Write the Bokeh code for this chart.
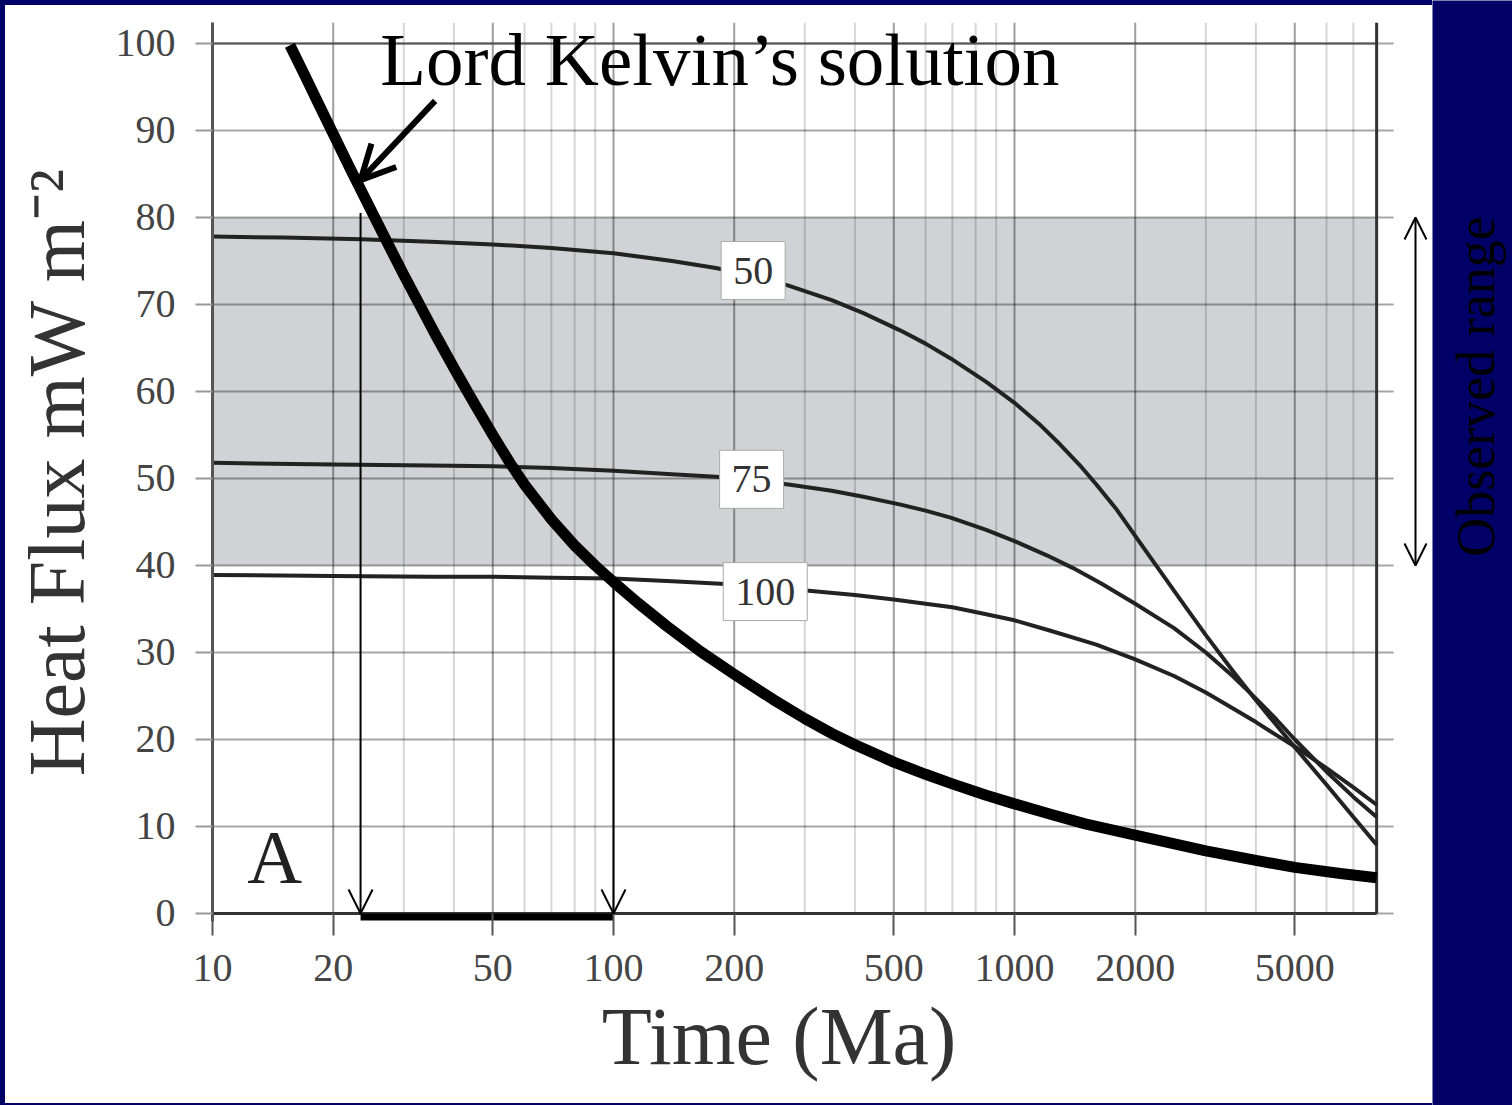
import math
from bokeh.plotting import figure
from bokeh.models import (FixedTicker, Label, Arrow, OpenHead, PrintfTickFormatter, Spacer)
from bokeh.layouts import row, column
from bokeh.embed import file_html
from bokeh.resources import INLINE

NAVY = "#000066"
SERIF = "Liberation Serif"

# ---------------- data ----------------
x_major = [10, 20, 50, 100, 200, 500, 1000, 2000, 5000]
x_minor = [30, 40, 60, 70, 80, 90, 300, 400, 600, 700, 800, 900,
           3000, 4000, 6000, 7000, 8000]
y_ticks = [0, 10, 20, 30, 40, 50, 60, 70, 80, 90, 100]

# Lord Kelvin's solution (thick curve)
kelvin_t = [15.6, 17, 18.5, 20, 22, 25, 27.5, 30, 33, 36, 40, 45, 50, 55, 60, 70, 80, 90,
            100, 115, 136, 165, 200, 250, 300, 350, 400, 500, 600, 700, 850, 1000, 1230,
            1500, 2000, 3000, 4000, 5000, 6500, 8000]
kelvin_q = [99.8, 96.3, 92.8, 89.6, 85.7, 80.6, 76.8, 73.4, 69.8, 66.5, 62.7, 58.6, 55.0,
            51.9, 49.3, 45.3, 42.3, 40.0, 38.1, 35.7, 33.0, 30.1, 27.5, 24.6, 22.4, 20.7,
            19.4, 17.4, 16.0, 14.9, 13.6, 12.6, 11.4, 10.3, 9.0, 7.2, 6.1, 5.3, 4.6, 4.1]

# curve labelled 50
c50_t = [10, 15, 23.5, 35, 50, 70, 100, 140, 180, 223, 272, 350, 420, 520, 600, 693, 850,
         1000, 1150, 1300, 1450, 1600, 1800, 2000, 2200, 2600, 3000, 3500, 4000, 5000,
         6000, 7000, 8000]
c50_q = [77.8, 77.7, 77.5, 77.2, 76.9, 76.5, 75.9, 75.0, 74.2, 73.3, 72.2, 70.5, 69.0,
         67.0, 65.5, 63.8, 61.1, 58.7, 56.3, 53.9, 51.6, 49.3, 46.4, 43.4, 40.7, 36.0,
         32.0, 27.9, 24.5, 19.1, 14.8, 11.1, 7.9]

# curve labelled 75
c75_t = [10, 20, 35, 50, 70, 100, 140, 180, 221, 273, 350, 420, 520, 600, 693, 850, 1000,
         1200, 1400, 1650, 2000, 2500, 3000, 3500, 4000, 4500, 5000, 6000, 7000, 8000]
c75_q = [51.8, 51.6, 51.5, 51.4, 51.2, 50.9, 50.5, 50.2, 49.8, 49.3, 48.6, 47.9, 47.0,
         46.3, 45.5, 44.1, 42.8, 41.2, 39.7, 37.9, 35.6, 32.8, 30.0, 27.3, 24.7, 22.3,
         20.0, 16.3, 13.4, 11.1]

# curve labelled 100
c100_t = [10, 20, 35, 50, 70, 100, 140, 185, 307, 400, 500, 600, 700, 850, 1000, 1230,
          1600, 2000, 2500, 3000, 3500, 4000, 4500, 5000, 6000, 7000, 8000]
c100_q = [38.9, 38.8, 38.7, 38.7, 38.6, 38.5, 38.2, 37.9, 37.1, 36.6, 36.1, 35.6, 35.2,
          34.4, 33.7, 32.5, 30.9, 29.2, 27.3, 25.4, 23.6, 22.0, 20.5, 19.2, 16.7, 14.5,
          12.5]

curve_labels = ["50", "75", "100"]
label_t = [223, 221, 239]
label_q = [73.9, 49.9, 37.0]

obs_low, obs_high = 40, 80          # observed range band
t_lo, t_hi = 23.4, 100              # age range implied by Kelvin's solution
t_lo_top, t_hi_top = 80.5, 38.5

x_min, x_max = 10, 8000
y_min, y_max = -0.92, 102.41

# ---------------- geometry helpers (pixels per decade of the log axis) ----------------
PX_DEC = 401.0
x_right = 10 ** (1 + 1215 / PX_DEC)            # frame right edge (screen 1427)
x_ext = x_max * 10 ** (17 / PX_DEC)            # grid lines overshoot right border by 17px
obs_arrow_x = 10000
bar_y = -0.4

# ---------------- main figure ----------------
p = figure(width=1427, height=1098, x_axis_type="log",
           x_range=(x_min, x_right), y_range=(y_min, y_max),
           output_backend="svg", toolbar_location=None,
           min_border_left=207, min_border_right=5, min_border_top=17,
           min_border_bottom=182,
           background_fill_color="white", border_fill_color="white",
           outline_line_color=None)
p.title.visible = False
p.xgrid.visible = False
p.ygrid.visible = False

xa = p.xaxis[0]
xa.ticker = FixedTicker(ticks=x_major)
xa.formatter = PrintfTickFormatter(format="%d")
xa.major_tick_out = 14
xa.major_tick_in = 8
xa.major_tick_line_color = "#555555"
xa.major_tick_line_width = 2
xa.minor_tick_line_color = None
xa.axis_line_color = None
xa.major_label_text_font = SERIF
xa.major_label_text_font_size = "40px"
xa.major_label_text_color = "#444444"
xa.major_label_standoff = 19
xa.axis_label = "Time (Ma)\u00a0\u00a0\u00a0\u00a0"
xa.axis_label_text_font = SERIF
xa.axis_label_text_font_size = "82px"
xa.axis_label_text_font_style = "normal"
xa.axis_label_text_color = "#333333"
xa.axis_label_standoff = 7

ya = p.yaxis[0]
ya.ticker = FixedTicker(ticks=y_ticks)
ya.major_tick_out = 17
ya.major_tick_in = 0
ya.major_tick_line_color = "#999999"
ya.major_tick_line_width = 2
ya.minor_tick_line_color = None
ya.axis_line_color = "#555555"
ya.axis_line_width = 3
ya.major_label_text_font = SERIF
ya.major_label_text_font_size = "40px"
ya.major_label_text_color = "#444444"
ya.major_label_standoff = 20
ya.axis_label = "Heat Flux mW m\u207b\u00b2"
ya.axis_label_text_font = SERIF
ya.axis_label_text_font_size = "80px"
ya.axis_label_text_font_style = "normal"
ya.axis_label_text_color = "#333333"
ya.axis_label_standoff = 12

# observed range band
p.quad(left=[x_min], right=[x_max], bottom=[obs_low], top=[obs_high],
       fill_color="#d1d2d6", line_color=None)

# grid lines (drawn by hand so they stop at the frame of the original chart)
n_y = len(y_ticks)
p.segment(x0=[x_min] * n_y, x1=[x_ext] * n_y, y0=y_ticks, y1=y_ticks,
          line_color="black", line_alpha=0.35, line_width=2)
p.segment(x0=x_major, x1=x_major, y0=[0] * len(x_major), y1=[y_max] * len(x_major),
          line_color="black", line_alpha=0.38, line_width=2)
p.segment(x0=x_minor, x1=x_minor, y0=[0] * len(x_minor), y1=[y_max] * len(x_minor),
          line_color="black", line_alpha=0.16, line_width=2)

# frame lines
p.segment(x0=[x_min], x1=[x_max], y0=[0], y1=[0], line_color="#333333", line_width=3)
p.segment(x0=[x_min], x1=[x_max], y0=[100], y1=[100], line_color="#555555", line_width=2)
p.segment(x0=[x_max], x1=[x_max], y0=[0], y1=[y_max], line_color="#333333", line_width=3)

# curves
p.line(c50_t, c50_q, line_width=4, color="#222222", line_join="round")
p.line(c75_t, c75_q, line_width=4, color="#222222", line_join="round")
p.line(c100_t, c100_q, line_width=4, color="#222222", line_join="round")
p.line(kelvin_t, kelvin_q, line_width=11, color="black", line_join="round")

for txt, lx, ly in zip(curve_labels, label_t, label_q):
    p.add_layout(Label(x=lx, y=ly, text=txt, text_font=SERIF, text_font_size="40px",
                       text_color="#333333", text_align="center", text_baseline="middle",
                       background_fill_color="white", border_line_color="#aaaaaa",
                       border_line_width=1, padding=(12, 16)))

# thick bar on the time axis between the two ages
p.line([t_lo, t_hi], [bar_y, bar_y], line_width=7, color="black")

# arrows
p.add_layout(Arrow(end=OpenHead(size=24, line_width=2, line_color="black"),
                   x_start=t_lo, y_start=t_lo_top, x_end=t_lo, y_end=0,
                   line_width=2, line_color="black"))
p.add_layout(Arrow(end=OpenHead(size=24, line_width=2, line_color="black"),
                   x_start=t_hi, y_start=t_hi_top, x_end=t_hi, y_end=0,
                   line_width=2, line_color="black"))
p.add_layout(Arrow(end=OpenHead(size=34, line_width=6, line_color="black"),
                   x_start=35.9, y_start=93.4, x_end=23.4, y_end=84.3,
                   line_width=6, line_color="black"))
p.add_layout(Arrow(start=OpenHead(size=22, line_width=2, line_color="black"),
                   end=OpenHead(size=22, line_width=2, line_color="black"),
                   x_start=obs_arrow_x, y_start=obs_low, x_end=obs_arrow_x, y_end=obs_high,
                   line_width=2, line_color="black"))

p.add_layout(Label(x=26.2, y=98.16, text="Lord Kelvin\u2019s solution", text_font=SERIF,
                   text_font_size="75px", text_color="black", text_align="left",
                   text_baseline="alphabetic"))
p.add_layout(Label(x=12.2, y=6.55, text="A", text_font=SERIF, text_font_size="76px",
                   text_color="#222222", text_align="left", text_baseline="alphabetic"))

# ---------------- right navy strip ----------------
strip = figure(width=80, height=1105, x_range=(0, 80), y_range=(0, 1105),
               x_axis_location=None, y_axis_location=None,
               output_backend="svg", toolbar_location=None, min_border=0,
               background_fill_color=NAVY, border_fill_color=NAVY,
               outline_line_color=None)
strip.title.visible = False
strip.grid.visible = False
strip.add_layout(Label(x=43.5, y=719, text="Observed range", angle=math.pi / 2,
                       text_font=SERIF, text_font_size="54px", text_color="black",
                       text_align="center", text_baseline="alphabetic"))

layout = row(
    Spacer(width=5, height=1105, styles={"background-color": NAVY}),
    column(Spacer(width=1427, height=5, styles={"background-color": NAVY}),
           p,
           Spacer(width=1427, height=2, styles={"background-color": NAVY}),
           styles={"background-color": "white"}),
    strip,
    styles={"background-color": "white"},
)

open("out.html", "w").write(file_html(layout, INLINE))
